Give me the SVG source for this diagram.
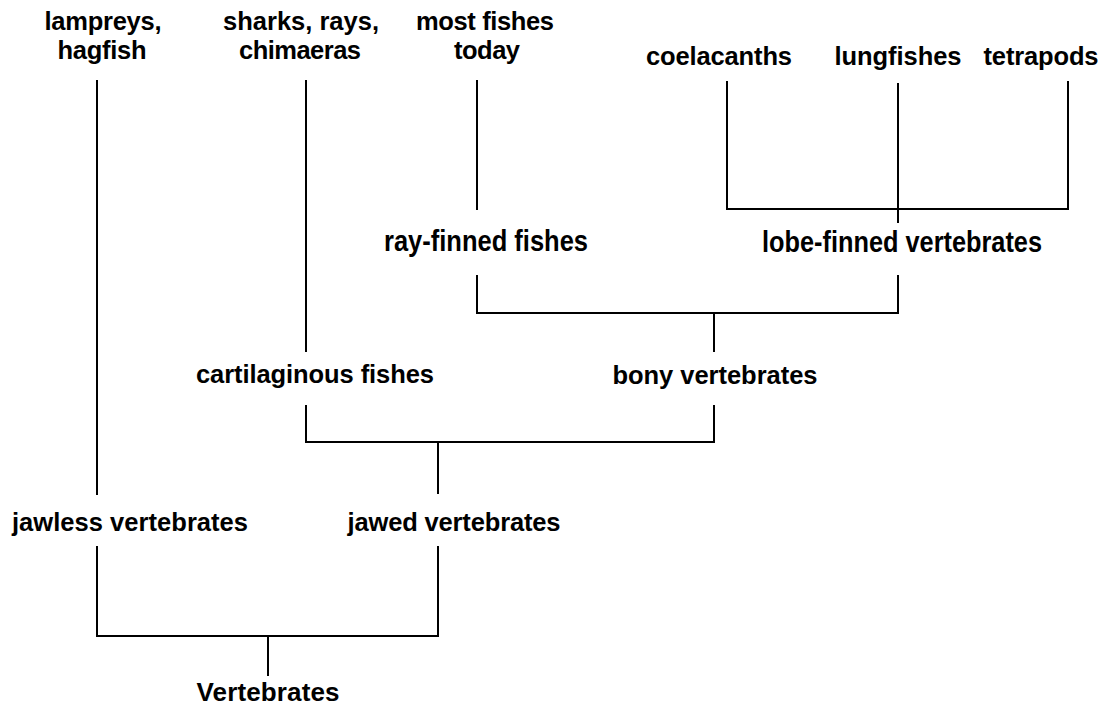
<svg xmlns="http://www.w3.org/2000/svg" width="1106" height="708" viewBox="0 0 1106 708">
<style>
  .t { font-family: "Liberation Sans", Arial, sans-serif; font-weight: bold; font-size: 25.5px; fill: #000; text-anchor: middle; }
  .n { font-family: "Liberation Sans Narrow", "Liberation Sans", Arial, sans-serif; font-weight: bold; font-size: 30px; fill: #000; text-anchor: middle; }
  .c { fill: none; stroke: #000; stroke-width: 2; stroke-linecap: butt; }
</style>
<rect width="1106" height="708" fill="#fff"/>
<g id="lampreys"><text class="t" x="103" y="30" textLength="117">lampreys,</text><text class="t" x="102" y="59" textLength="89">hagfish</text></g>
<g id="sharks"><text class="t" x="301" y="30" textLength="156">sharks, rays,</text><text class="t" x="300" y="59" textLength="122">chimaeras</text></g>
<g id="most-fishes"><text class="t" x="485" y="30" textLength="138">most fishes</text><text class="t" x="487" y="59" textLength="66">today</text></g>
<g id="coelacanths"><text class="t" x="719" y="65" textLength="146">coelacanths</text></g>
<g id="lungfishes"><text class="t" x="898" y="65" textLength="127">lungfishes</text></g>
<g id="tetrapods"><text class="t" x="1041" y="65" textLength="115">tetrapods</text></g>
<g id="ray-finned"><text class="n" x="486" y="251" textLength="204" lengthAdjust="spacingAndGlyphs">ray-finned fishes</text></g>
<g id="lobe-finned"><text class="n" x="902" y="252" textLength="280" lengthAdjust="spacingAndGlyphs">lobe-finned vertebrates</text></g>
<g id="cartilaginous"><text class="t" x="315" y="383" textLength="238">cartilaginous fishes</text></g>
<g id="bony"><text class="t" x="715" y="384" textLength="205">bony vertebrates</text></g>
<g id="jawless"><text class="t" x="130" y="531" textLength="236">jawless vertebrates</text></g>
<g id="jawed"><text class="t" x="454" y="531" textLength="213">jawed vertebrates</text></g>
<g id="vertebrates"><text class="t" x="268" y="701" style="font-size:26px" textLength="143">Vertebrates</text></g>
<g id="connectors">
  <path class="c" d="M97 80 V495"/>
  <path class="c" d="M306 80 V352"/>
  <path class="c" d="M477 80 V210"/>
  <path class="c" d="M727 81 V209 H1068 V81"/>
  <path class="c" d="M898 83 V223"/>
  <path class="c" d="M477 275 V313 H898 V275"/>
  <path class="c" d="M714 313 V352"/>
  <path class="c" d="M306 405 V442 H714 V405"/>
  <path class="c" d="M438 442 V494"/>
  <path class="c" d="M97 546 V636 H438 V546"/>
  <path class="c" d="M268 636 V676"/>
</g>
</svg>
